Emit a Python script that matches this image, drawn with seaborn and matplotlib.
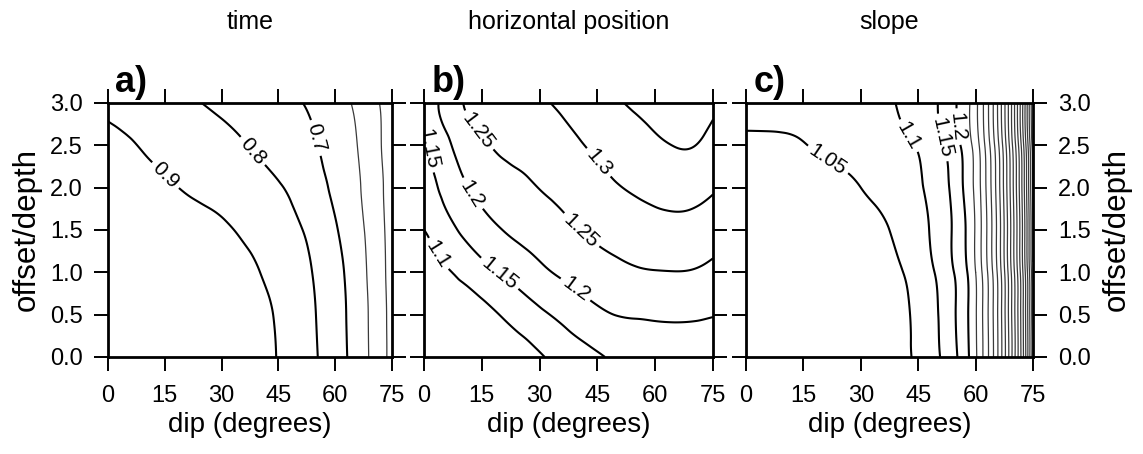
import numpy as np
import matplotlib
matplotlib.use("Agg")
import matplotlib.pyplot as plt
import matplotlib.tri as mtri
import seaborn as sns

# offset/depth rows shared by the three grids
offsets = [0.0, 0.5, 1.0, 1.5, 2.0, 2.5, 3.0]

# a) traveltime ratio, one row per offset/depth value
time_dips = [0, 5, 10, 15, 20, 25, 30, 35, 40, 45, 50, 55, 60, 65, 70, 75]
time_ratio = [
    [1.000, 1.000, 1.000, 0.999, 0.996, 0.990, 0.980, 0.962, 0.934, 0.895, 0.851, 0.804, 0.746, 0.670, 0.577, 0.470],
    [0.995, 0.995, 0.995, 0.994, 0.991, 0.985, 0.974, 0.956, 0.928, 0.888, 0.846, 0.799, 0.742, 0.666, 0.575, 0.468],
    [0.980, 0.980, 0.979, 0.978, 0.974, 0.966, 0.952, 0.931, 0.901, 0.867, 0.832, 0.790, 0.733, 0.658, 0.568, 0.463],
    [0.960, 0.960, 0.959, 0.955, 0.948, 0.935, 0.916, 0.891, 0.866, 0.840, 0.810, 0.767, 0.709, 0.641, 0.560, 0.460],
    [0.940, 0.936, 0.926, 0.912, 0.895, 0.878, 0.863, 0.847, 0.829, 0.807, 0.777, 0.732, 0.681, 0.624, 0.548, 0.458],
    [0.915, 0.908, 0.892, 0.876, 0.860, 0.844, 0.827, 0.808, 0.787, 0.763, 0.735, 0.704, 0.657, 0.610, 0.536, 0.455],
    [0.890, 0.872, 0.854, 0.835, 0.817, 0.799, 0.781, 0.765, 0.748, 0.729, 0.707, 0.679, 0.640, 0.591, 0.523, 0.455],
]
time_labeled = [0.7, 0.8, 0.9]
time_plain = [0.5, 0.6]

# b) horizontal position ratio
position_dips = [0, 2.5, 5, 10, 15, 20, 25, 30, 35, 40, 45, 50, 55, 60, 65, 70, 75]
position_ratio = [
    [1.060, 1.063, 1.065, 1.066, 1.067, 1.068, 1.074, 1.095, 1.113, 1.128, 1.144, 1.158, 1.165, 1.170, 1.171, 1.171, 1.167],
    [1.067, 1.072, 1.076, 1.077, 1.085, 1.102, 1.122, 1.141, 1.158, 1.176, 1.191, 1.201, 1.204, 1.206, 1.207, 1.206, 1.202],
    [1.080, 1.085, 1.092, 1.111, 1.132, 1.153, 1.171, 1.189, 1.205, 1.217, 1.229, 1.238, 1.245, 1.248, 1.249, 1.247, 1.238],
    [1.100, 1.110, 1.128, 1.156, 1.180, 1.199, 1.212, 1.224, 1.236, 1.249, 1.260, 1.269, 1.277, 1.283, 1.286, 1.283, 1.273],
    [1.118, 1.141, 1.161, 1.192, 1.216, 1.230, 1.240, 1.251, 1.261, 1.273, 1.285, 1.297, 1.306, 1.314, 1.319, 1.317, 1.305],
    [1.136, 1.167, 1.185, 1.221, 1.243, 1.258, 1.265, 1.273, 1.283, 1.296, 1.308, 1.321, 1.331, 1.342, 1.351, 1.351, 1.333],
    [1.154, 1.190, 1.208, 1.249, 1.269, 1.280, 1.288, 1.295, 1.305, 1.318, 1.330, 1.345, 1.357, 1.368, 1.379, 1.378, 1.360],
]
position_labeled = [1.1, 1.15, 1.2, 1.25, 1.3]
position_plain = [1.35]

# c) slope ratio
slope_dips = [0, 5, 10, 15, 20, 25, 30, 35, 40, 45, 50, 55, 57.5, 60, 62.5, 65, 67.5, 70, 72.5, 75]
slope_ratio = [
    [1.000, 1.000, 1.000, 1.000, 1.001, 1.002, 1.006, 1.014, 1.031, 1.061, 1.094, 1.147, 1.185, 1.242, 1.320, 1.414, 1.535, 1.681, 1.850, 2.080],
    [1.002, 1.002, 1.002, 1.002, 1.002, 1.004, 1.007, 1.016, 1.033, 1.064, 1.098, 1.153, 1.190, 1.245, 1.323, 1.417, 1.539, 1.685, 1.855, 2.085],
    [1.007, 1.007, 1.007, 1.007, 1.008, 1.009, 1.014, 1.024, 1.044, 1.073, 1.106, 1.158, 1.194, 1.250, 1.328, 1.423, 1.545, 1.692, 1.862, 2.092],
    [1.016, 1.016, 1.016, 1.016, 1.017, 1.020, 1.027, 1.040, 1.061, 1.084, 1.115, 1.165, 1.202, 1.256, 1.335, 1.431, 1.553, 1.700, 1.871, 2.101],
    [1.028, 1.028, 1.028, 1.029, 1.032, 1.038, 1.050, 1.064, 1.077, 1.094, 1.123, 1.174, 1.213, 1.264, 1.343, 1.440, 1.563, 1.710, 1.882, 2.113],
    [1.044, 1.044, 1.0446, 1.0483, 1.0565, 1.064, 1.071, 1.080, 1.090, 1.1035, 1.135, 1.186, 1.222, 1.273, 1.354, 1.452, 1.575, 1.723, 1.896, 2.128],
    [1.062, 1.062, 1.063, 1.064, 1.067, 1.072, 1.079, 1.089, 1.103, 1.1225, 1.149, 1.200, 1.232, 1.286, 1.367, 1.467, 1.591, 1.739, 1.914, 2.146],
]
slope_labeled = [1.05, 1.1, 1.15, 1.2]
slope_plain = [1.25, 1.3, 1.35, 1.4, 1.45, 1.5, 1.55, 1.6, 1.65, 1.7, 1.75,
               1.8, 1.85, 1.9, 1.95, 2.0, 2.05, 2.1]

dip_ticks = [0, 15, 30, 45, 60, 75]
offset_ticks = [0.0, 0.5, 1.0, 1.5, 2.0, 2.5, 3.0]

sns.set_theme(style="ticks")
plt.rcParams["font.family"] = ["Liberation Sans", "DejaVu Sans"]
plt.rcParams.update({
    "axes.linewidth": 2.0,
    "text.color": "black",
    "axes.labelcolor": "black",
    "xtick.color": "black",
    "ytick.color": "black",
})

# vertical stretch so the cubic interpolation sees comparable x/y spacing
Y_STRETCH = 25.0


def smooth_grid(dips, values):
    """Triangulate the grid and refine it with matplotlib's cubic interpolator."""
    X, Y = np.meshgrid(dips, offsets)
    z = np.asarray(values, dtype=float).ravel()
    tri = mtri.Triangulation(X.ravel(), Y.ravel() * Y_STRETCH)
    interp = mtri.CubicTriInterpolator(tri, z, kind="min_E")
    fine, zf = mtri.UniformTriRefiner(tri).refine_field(z, triinterpolator=interp, subdiv=4)
    return mtri.Triangulation(fine.x, fine.y / Y_STRETCH, fine.triangles), zf


fig = plt.figure(figsize=(11.43, 4.54), dpi=100)

panels = [
    dict(dips=time_dips, z=time_ratio, labeled=time_labeled, plain=time_plain,
         title="time", tag="a)", rect=[0.0945, 0.2137, 0.2485, 0.5595], side="left",
         label_at=[(15.5, 2.16), (38.4, 2.44), (55.1, 2.59)], plain_lw=0.9, plain_color="#3a3a3a"),
    dict(dips=position_dips, z=position_ratio, labeled=position_labeled, plain=position_plain,
         title="horizontal position", tag="b)", rect=[0.3710, 0.2137, 0.2528, 0.5595], side=None,
         label_at=[(13.7, 2.66), (1.2, 2.46), (11.9, 1.91), (3.7, 1.22), (18.8, 0.94),
                   (44.3, 2.26), (40.9, 1.50), (39.2, 0.79)], plain_lw=1.5, plain_color="black"),
    dict(dips=slope_dips, z=slope_ratio, labeled=slope_labeled, plain=slope_plain,
         title="slope", tag="c)", rect=[0.6527, 0.2137, 0.2511, 0.5595], side="right",
         label_at=[(21.1, 2.31), (42.4, 2.61), (51.1, 2.59), (55.4, 2.72)], plain_lw=0.9, plain_color="#3a3a3a"),
]

for p in panels:
    ax = fig.add_axes(p["rect"])
    tri, zf = smooth_grid(p["dips"], p["z"])
    ax.tricontour(tri, zf, levels=p["plain"], colors=p["plain_color"], linewidths=p["plain_lw"])
    cs = ax.tricontour(tri, zf, levels=p["labeled"], colors="black", linewidths=1.5)
    ax.clabel(cs, inline=True, inline_spacing=4,
              fmt=lambda v: f"{v:g}", fontsize=15, manual=p["label_at"])

    ax.set_xlim(0, 75)
    ax.set_ylim(0, 3)
    ax.set_xticks(dip_ticks)
    ax.set_yticks(offset_ticks)
    ax.set_yticklabels([f"{t:.1f}" for t in offset_ticks])
    ax.tick_params(direction="out", length=10, width=1.4, top=True, right=True,
                   labelsize=17, pad=8, colors="black")
    ax.tick_params(axis="x", pad=10)
    for s in ax.spines.values():
        s.set_linewidth(2.0)
        s.set_color("black")

    if p["side"] == "left":
        ax.tick_params(labelleft=True, labelright=False)
        ax.set_ylabel("offset/depth", fontsize=22.5, labelpad=6)
    elif p["side"] == "right":
        ax.tick_params(labelleft=False, labelright=True)
        ax.yaxis.set_label_position("right")
        ax.set_ylabel("offset/depth", fontsize=22.5, labelpad=8)
    else:
        ax.tick_params(labelleft=False, labelright=False)

    ax.set_xlabel("dip (degrees)", fontsize=20, labelpad=4)
    ax.text(0.5, 1.29, p["title"], transform=ax.transAxes, ha="center",
            va="baseline", fontsize=18)
    ax.text(0.025, 1.045, p["tag"], transform=ax.transAxes, ha="left",
            va="baseline", fontsize=26, fontweight="bold")

fig.savefig("out.png", dpi=100)
